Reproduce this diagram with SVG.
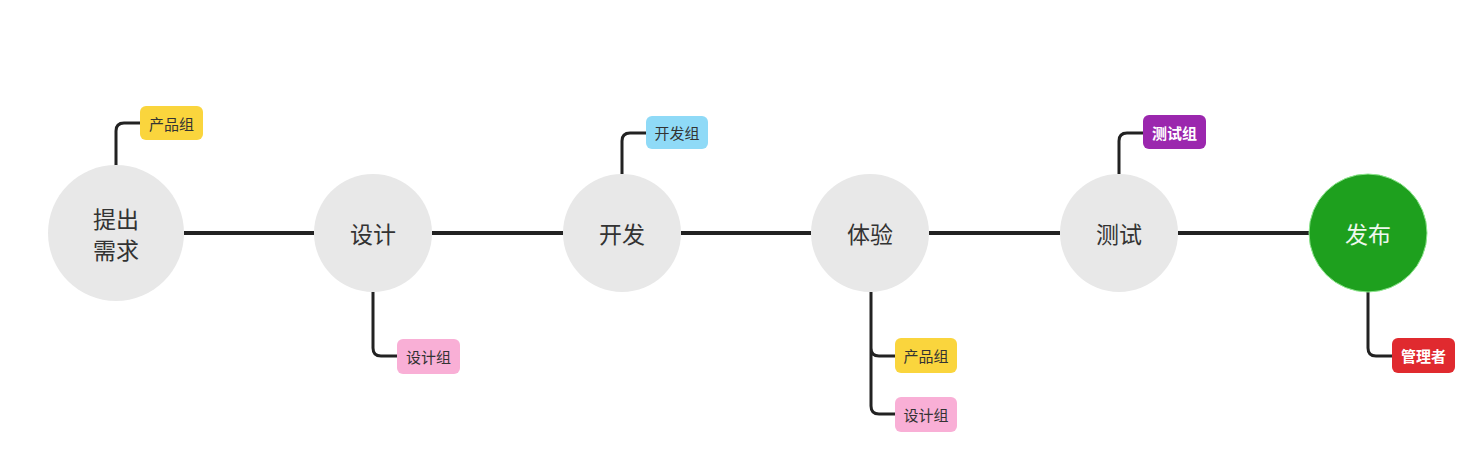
<svg xmlns="http://www.w3.org/2000/svg" width="1483" height="462" viewBox="0 0 1483 462">
<style>
.bg{fill:#ffffff}
.c{fill:#e8e8e8}
.t{font-family:"Noto Sans CJK SC","Noto Sans",sans-serif;font-size:23px;fill:#333;text-anchor:middle;dominant-baseline:central}
.tag{font-family:"Noto Sans CJK SC","Noto Sans",sans-serif;font-size:15px;fill:#333;text-anchor:middle;dominant-baseline:central}
.w{fill:#fff;font-weight:bold}
.ln{fill:none;stroke:#222;stroke-width:4}
.bl{fill:none;stroke:#222;stroke-width:3}
</style>
<rect class="bg" x="0" y="0" width="1483" height="462"/>
<g id="connectors">
<path class="ln" d="M184 233H314M432 233H563M681 233H811M929 233H1060M1178 233H1309"/>
<path class="bl" d="M116 166V131Q116 123 124 123H140"/>
<path class="bl" d="M373 292V348Q373 356 381 356H397"/>
<path class="bl" d="M622 174V141Q622 133 630 133H646"/>
<path class="bl" d="M871 292V406Q871 414 879 414H895M871 348Q871 356 879 356H895"/>
<path class="bl" d="M1119 174V141Q1119 133 1127 133H1143"/>
<path class="bl" d="M1368 292V348Q1368 356 1376 356H1392"/>
</g>
<g id="n1"><circle class="c" cx="116" cy="233" r="68"/><text class="t" x="116" y="218">提出</text><text class="t" x="116" y="249">需求</text></g>
<g id="n2"><circle class="c" cx="373" cy="233" r="59"/><text class="t" x="373" y="233">设计</text></g>
<g id="n3"><circle class="c" cx="622" cy="233" r="59"/><text class="t" x="622" y="233">开发</text></g>
<g id="n4"><circle class="c" cx="870" cy="233" r="59"/><text class="t" x="870" y="233">体验</text></g>
<g id="n5"><circle class="c" cx="1119" cy="233" r="59"/><text class="t" x="1119" y="233">测试</text></g>
<g id="n6"><circle cx="1368" cy="233" r="59" fill="#1ea01e" stroke="#8ee68e" stroke-width="1"/><text class="t" x="1368" y="233" style="fill:#eef8ee">发布</text></g>
<g id="tag1"><rect x="140" y="106" width="63" height="34" rx="6" fill="#fad53d"/><text class="tag" x="171.5" y="123">产品组</text></g>
<g id="tag2"><rect x="397" y="339" width="63" height="35" rx="6" fill="#f9afd6"/><text class="tag" x="428.5" y="356.5">设计组</text></g>
<g id="tag3"><rect x="646" y="116" width="62" height="33" rx="6" fill="#8fdaf7"/><text class="tag" x="677" y="132.5">开发组</text></g>
<g id="tag4"><rect x="895" y="338" width="62" height="35" rx="6" fill="#fad53d"/><text class="tag" x="926" y="355.5">产品组</text></g>
<g id="tag5"><rect x="895" y="397" width="62" height="35" rx="6" fill="#f9afd6"/><text class="tag" x="926" y="414.5">设计组</text></g>
<g id="tag6"><rect x="1143" y="115" width="63" height="34" rx="6" fill="#9b27ae"/><text class="tag w" x="1174.5" y="132">测试组</text></g>
<g id="tag7"><rect x="1392" y="338" width="63" height="35" rx="6" fill="#e02a2f"/><text class="tag w" x="1423.5" y="355.5">管理者</text></g>
</svg>
